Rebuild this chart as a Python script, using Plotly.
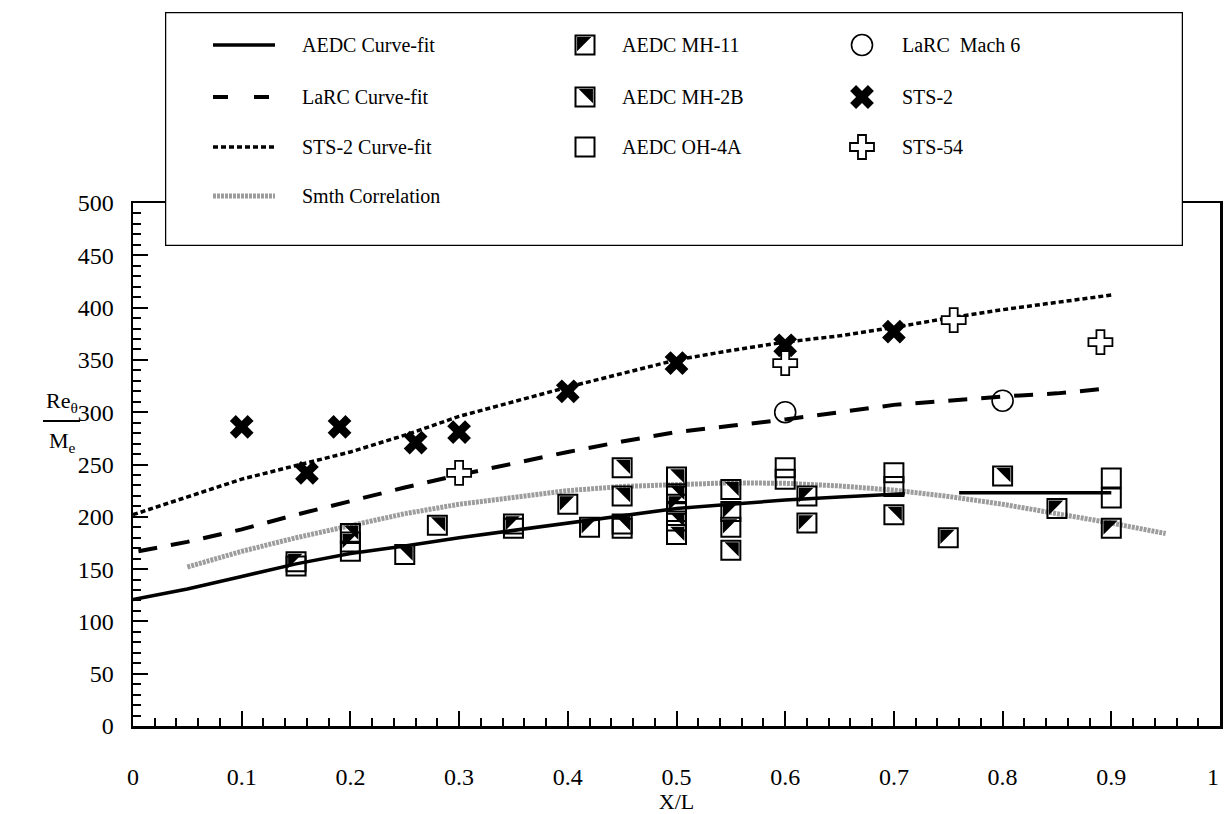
import plotly.graph_objects as go

# ---------------- data ----------------
aedc_fit_x = [0, 0.05, 0.1, 0.15, 0.2, 0.25, 0.3, 0.35, 0.4, 0.45, 0.5, 0.55, 0.6, 0.65, 0.7, 0.71, None, 0.76, 0.9]
aedc_fit_y = [121, 131, 143, 155, 165, 172, 180, 187, 194, 201, 208, 212, 216, 219, 221, 222, None, 223, 223]

larc_fit_x = [0.005, 0.05, 0.1, 0.15, 0.2, 0.25, 0.3, 0.35, 0.4, 0.45, 0.5, 0.55, 0.6, 0.65, 0.7, 0.75, 0.8, 0.85, 0.9]
larc_fit_y = [167, 176, 188, 202, 215, 228, 240, 251, 262, 272, 281, 287, 293, 300, 307, 311, 315, 318, 323]

sts2_fit_x = [0, 0.05, 0.1, 0.15, 0.2, 0.25, 0.3, 0.35, 0.4, 0.45, 0.5, 0.55, 0.6, 0.65, 0.7, 0.75, 0.8, 0.85, 0.9]
sts2_fit_y = [202, 219, 236, 249, 262, 278, 296, 310, 324, 337, 350, 359, 367, 373, 381, 390, 398, 405, 412]

smith_x = [0.05, 0.1, 0.15, 0.2, 0.25, 0.3, 0.35, 0.4, 0.45, 0.5, 0.55, 0.6, 0.65, 0.7, 0.75, 0.8, 0.85, 0.9, 0.95]
smith_y = [152, 167, 180, 192, 203, 212, 219, 225, 229, 231, 232.5, 232, 229.5, 225.5, 219.5, 212, 203.5, 194, 184]

mh11_x = [0.15, 0.2, 0.35, 0.40, 0.42, 0.5, 0.55, 0.55, 0.62, 0.62, 0.75, 0.85, 0.9]
mh11_y = [157, 176, 193, 212, 190, 212, 205, 190, 220, 194, 180, 208, 189]

mh2b_x = [0.2, 0.25, 0.28, 0.45, 0.45, 0.45, 0.5, 0.5, 0.5, 0.5, 0.55, 0.55, 0.7, 0.8]
mh2b_y = [184, 164, 192, 247, 220, 193, 238, 222, 196, 183, 226, 168, 202, 239]

oh4a_x = [0.15, 0.2, 0.35, 0.45, 0.5, 0.6, 0.6, 0.7, 0.7, 0.9, 0.9]
oh4a_y = [153, 167, 189, 189, 205, 247, 236, 242, 229, 237, 218]

larc_m6_x = [0.6, 0.8]
larc_m6_y = [300, 311]

sts2_x = [0.1, 0.16, 0.19, 0.26, 0.30, 0.40, 0.50, 0.60, 0.70]
sts2_y = [286, 242, 286, 271, 281, 320, 347, 364, 377]

sts54_x = [0.30, 0.60, 0.755, 0.89]
sts54_y = [242, 347, 388, 367]

x_tick_vals = [0, 0.1, 0.2, 0.3, 0.4, 0.5, 0.6, 0.7, 0.8, 0.9, 1]
x_tick_text = ["0", "0.1", "0.2", "0.3", "0.4", "0.5", "0.6", "0.7", "0.8", "0.9", "1"]
y_tick_vals = [0, 50, 100, 150, 200, 250, 300, 350, 400, 450, 500]
y_tick_text = ["0", "50", "100", "150", "200", "250", "300", "350", "400", "450", "500"]

legend_names = [
    ["AEDC Curve-fit", "LaRC Curve-fit", "STS-2 Curve-fit", "Smth Correlation"],
    ["AEDC MH-11", "AEDC MH-2B", "AEDC OH-4A"],
    ["LaRC\u00a0 Mach 6", "STS-2", "STS-54"],
]

# ---------------- layout constants ----------------
W, H = 1225, 814
PL, PR, PT, PB = 133, 1220, 203, 726          # plot area (px)
X_RANGE = [0, 1]
Y_RANGE = [0, 500]
FONT = "Liberation Serif, Times New Roman, serif"
TICK_SIZE = 24
X_LABEL_Y = 777          # px centre of x tick labels
LAST_LABEL_SHIFT = -7    # the final "1" label sits just inside the right edge

SQ = 19                  # square marker size
TRI = SQ / 1.2           # right-triangle marker size with legs == SQ
SHIFT = SQ / 6           # px offset of triangle centroid vs square centre
px_x = (PR - PL) / (X_RANGE[1] - X_RANGE[0])
px_y = (PB - PT) / (Y_RANGE[1] - Y_RANGE[0])
dx = SHIFT / px_x
dy = SHIFT / px_y

# legend box (px)
LB_L, LB_R, LB_T, LB_B = 165, 1183, 12, 246
LEG_W, LEG_H = LB_R - LB_L, LB_B - LB_T
ROW_Y = [33, 85, 135, 184]
COL_SYM = [None, 420, 697]
COL_TXT = [135, 455, 735]
LINE_X = [48, 110]

BLACK = "black"
SMITH_COLOR = "rgba(115,115,115,0.7)"

styles_line = {
    "aedc": dict(color=BLACK, width=3.5),
    "larc": dict(color=BLACK, width=4, dash="19px,14px"),
    "sts2": dict(color=BLACK, width=3.5, dash="5px,3px"),
    "smith": dict(color=SMITH_COLOR, width=5, dash="3px,1px"),
}

fig = go.Figure()

# ---------------- main plot ----------------
fig.add_trace(go.Scatter(x=smith_x, y=smith_y, mode="lines", line=styles_line["smith"]))
fig.add_trace(go.Scatter(x=aedc_fit_x, y=aedc_fit_y, mode="lines", line=styles_line["aedc"], connectgaps=False))
fig.add_trace(go.Scatter(x=larc_fit_x, y=larc_fit_y, mode="lines", line=styles_line["larc"]))
fig.add_trace(go.Scatter(x=sts2_fit_x, y=sts2_fit_y, mode="lines", line=styles_line["sts2"]))

sq_marker = dict(symbol="square-open", size=SQ, color=BLACK, line=dict(width=2, color=BLACK))
for xs, ys in [(oh4a_x, oh4a_y), (mh11_x, mh11_y), (mh2b_x, mh2b_y)]:
    fig.add_trace(go.Scatter(x=xs, y=ys, mode="markers", marker=sq_marker))

# filled halves (on offset overlay axes so the right-triangle fills exactly half the square)
fig.add_trace(go.Scatter(x=mh11_x, y=mh11_y, mode="markers", xaxis="x3", yaxis="y3",
                         marker=dict(symbol="triangle-nw", size=TRI, color=BLACK, line=dict(width=0))))
fig.add_trace(go.Scatter(x=mh2b_x, y=mh2b_y, mode="markers", xaxis="x4", yaxis="y3",
                         marker=dict(symbol="triangle-ne", size=TRI, color=BLACK, line=dict(width=0))))

circle_marker = dict(symbol="circle-open", size=21, color=BLACK, line=dict(width=1.6))
x_marker = dict(symbol="x", size=21, color=BLACK, line=dict(width=0))
cross_marker = dict(symbol="cross", size=20, color="white", line=dict(width=1.8, color=BLACK))
fig.add_trace(go.Scatter(x=larc_m6_x, y=larc_m6_y, mode="markers", marker=circle_marker))
fig.add_trace(go.Scatter(x=sts2_x, y=sts2_y, mode="markers", marker=x_marker))
fig.add_trace(go.Scatter(x=sts54_x, y=sts54_y, mode="markers", marker=cross_marker))

# ---------------- legend (own axes, px units) ----------------
leg = dict(xaxis="x2", yaxis="y2", hoverinfo="skip")
line_keys = ["aedc", "larc", "sts2", "smith"]
for i, key in enumerate(line_keys):
    st = dict(styles_line[key])
    if key == "larc":
        st["dash"] = "15px,26px"
    fig.add_trace(go.Scatter(x=LINE_X, y=[ROW_Y[i]] * 2, mode="lines", line=st, **leg))

for i in range(3):
    fig.add_trace(go.Scatter(x=[COL_SYM[1]], y=[ROW_Y[i]], mode="markers", marker=sq_marker, **leg))
fig.add_trace(go.Scatter(x=[COL_SYM[1] - SHIFT], y=[ROW_Y[0] - SHIFT], mode="markers",
                         marker=dict(symbol="triangle-nw", size=TRI, color=BLACK, line=dict(width=0)), **leg))
fig.add_trace(go.Scatter(x=[COL_SYM[1] + SHIFT], y=[ROW_Y[1] - SHIFT], mode="markers",
                         marker=dict(symbol="triangle-ne", size=TRI, color=BLACK, line=dict(width=0)), **leg))
for i, mk in enumerate([circle_marker, x_marker, cross_marker]):
    fig.add_trace(go.Scatter(x=[COL_SYM[2]], y=[ROW_Y[i]], mode="markers", marker=mk, **leg))

annotations = []
for c, names in enumerate(legend_names):
    for r, name in enumerate(names):
        annotations.append(dict(x=COL_TXT[c], y=ROW_Y[r], xref="x2", yref="y2", text=name,
                                showarrow=False, xanchor="left", yanchor="middle",
                                font=dict(family=FONT, size=20, color=BLACK)))

# last x tick label, nudged inside the page edge
annotations.append(dict(x=x_tick_vals[-1], y=1 - X_LABEL_Y / H, xref="x", yref="paper",
                        text=x_tick_text[-1], showarrow=False, xanchor="center", yanchor="middle",
                        xshift=LAST_LABEL_SHIFT, font=dict(family=FONT, size=TICK_SIZE, color=BLACK)))

# y-axis label as a fraction (left of the tick labels)
annotations.append(dict(x=62 / W, y=1 - 402 / H, xref="paper", yref="paper",
                        text="Re<sub>θ</sub>", showarrow=False, xanchor="center", yanchor="middle",
                        font=dict(family=FONT, size=22, color=BLACK)))
annotations.append(dict(x=62 / W, y=1 - 442 / H, xref="paper", yref="paper",
                        text="M<sub>e</sub>", showarrow=False, xanchor="center", yanchor="middle",
                        font=dict(family=FONT, size=22, color=BLACK)))

shapes = [
    dict(type="rect", xref="x2", yref="y2", x0=0, x1=LEG_W, y0=0, y1=LEG_H,
         fillcolor="white", line=dict(color=BLACK, width=2.5), layer="below"),
    dict(type="line", xref="paper", yref="paper", x0=43 / W, x1=80 / W,
         y0=1 - 421 / H, y1=1 - 421 / H, line=dict(color=BLACK, width=2)),
]

axis_common = dict(showgrid=False, zeroline=False, showline=True, linecolor=BLACK, linewidth=2.5,
                   mirror=True, ticks="inside", tickcolor=BLACK, tickwidth=2, ticklen=15,
                   tickfont=dict(family=FONT, size=TICK_SIZE, color=BLACK), fixedrange=True,
                   automargin=False, tickmode="array")

fig.update_layout(
    width=W, height=H,
    margin=dict(l=0, r=0, t=0, b=0, pad=0, autoexpand=False),
    paper_bgcolor="white", plot_bgcolor="rgba(0,0,0,0)",
    showlegend=False,
    font=dict(family=FONT, color=BLACK),
    xaxis=dict(domain=[PL / W, PR / W], range=X_RANGE, anchor="y",
               tickvals=x_tick_vals, ticktext=x_tick_text[:-1] + [""],
               minor=dict(tickmode="linear", tick0=0, dtick=0.02, ticks="inside", ticklen=8,
                          tickwidth=2, tickcolor=BLACK, showgrid=False),
               ticklabelstandoff=28,
               title=dict(text="X/L", font=dict(family=FONT, size=22, color=BLACK), standoff=2),
               **axis_common),
    yaxis=dict(domain=[1 - PB / H, 1 - PT / H], range=Y_RANGE, anchor="x",
               tickvals=y_tick_vals, ticktext=y_tick_text,
               minor=dict(tickmode="linear", tick0=0, dtick=10, ticks="inside", ticklen=8,
                          tickwidth=2, tickcolor=BLACK, showgrid=False),
               ticklabelstandoff=12,
               **axis_common),
    xaxis3=dict(overlaying="x", range=[X_RANGE[0] + dx, X_RANGE[1] + dx], visible=False, anchor="y3", fixedrange=True),
    xaxis4=dict(overlaying="x", range=[X_RANGE[0] - dx, X_RANGE[1] - dx], visible=False, anchor="y3", fixedrange=True),
    yaxis3=dict(overlaying="y", range=[Y_RANGE[0] - dy, Y_RANGE[1] - dy], visible=False, anchor="x3", fixedrange=True),
    xaxis2=dict(domain=[LB_L / W, LB_R / W], range=[0, LEG_W], visible=False, anchor="y2", fixedrange=True),
    yaxis2=dict(domain=[1 - LB_B / H, 1 - LB_T / H], range=[LEG_H, 0], visible=False, anchor="x2", fixedrange=True),
    annotations=annotations,
    shapes=shapes,
)

fig.write_html("out.html", config={"displayModeBar": False, "staticPlot": True},
               post_script="document.body.style.margin='0';document.body.style.overflow='hidden';")
